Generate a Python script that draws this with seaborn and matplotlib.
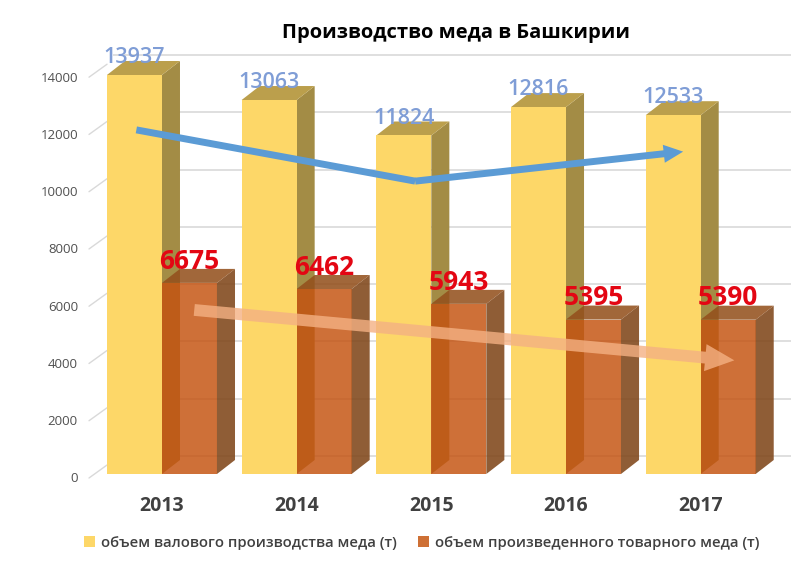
#!/usr/bin/env python
# -*- coding: utf-8 -*-

import pandas as pd
import matplotlib.pyplot as plt
import seaborn as sns
from matplotlib.patches import FancyArrowPatch, Patch, Polygon
from matplotlib.transforms import ScaledTranslation

years = ['2013', '2014', '2015', '2016', '2017']
gross = [13937, 13063, 11824, 12816, 12533]
commercial = [6675, 6462, 5943, 5395, 5390]
y_ticks = [0, 2000, 4000, 6000, 8000, 10000, 12000, 14000]

gross_name = 'объем валового производства меда (т)'
commercial_name = 'объем произведенного товарного меда (т)'
title = 'Производство меда в Башкирии'

# hand drawn trend arrows, in category / value units
blue_x = [-0.19, 1.88, 3.87]
blue_y = [12020, 10230, 11260]
orange_x = [0.24, 4.25]
orange_y = [5730, 3970]

sns.set_theme(style='white')
plt.rcParams['font.family'] = ['Open Sans', 'DejaVu Sans']

df = pd.DataFrame({
    'year': years * 2,
    'value': gross + commercial,
    'series': [gross_name] * 5 + [commercial_name] * 5,
})

fig = plt.figure(figsize=(8, 5.76), dpi=100)
ax = fig.add_axes([94.6 / 800, 102 / 576, 673.4 / 800, 400.8 / 576])

sns.barplot(data=df, x='year', y='value', hue='series', ax=ax, width=0.817, gap=0,
            palette=['#FDD768', '#C45310'], saturation=1, legend=False)
ax.set_xlim(-0.5, 4.5)
ax.set_ylim(0, 14000)
ax.set_xlabel('')
ax.set_ylabel('')
sns.despine(ax=ax, left=True, bottom=True)

# depth of the fake 3D bars, in data units
depth_x = 0.134
depth_y = 489


def add_depth(bar, side_color, top_color, alpha, zorder):
    x0, x1 = bar.get_x(), bar.get_x() + bar.get_width()
    h = bar.get_height()
    side = [(x1, 0), (x1 + depth_x, depth_y), (x1 + depth_x, h + depth_y), (x1, h)]
    top = [(x0, h), (x1, h), (x1 + depth_x, h + depth_y), (x0 + depth_x, h + depth_y)]
    ax.add_patch(Polygon(side, fc=side_color, ec='none', alpha=alpha, zorder=zorder, clip_on=False))
    ax.add_patch(Polygon(top, fc=top_color, ec='none', alpha=alpha, zorder=zorder, clip_on=False))


for bar in ax.containers[0]:
    bar.set_edgecolor('none')
    bar.set_linewidth(0)
    bar.set_zorder(3)
    add_depth(bar, '#A38C45', '#BB9F4C', 1, 1)
for bar in ax.containers[1]:
    bar.set_edgecolor('none')
    bar.set_linewidth(0)
    bar.set_alpha(0.83)
    bar.set_zorder(2)
    add_depth(bar, '#7F4518', '#93501C', 0.87, 2)

# back wall gridlines
ax.hlines(y_ticks, -0.5 + depth_x, 4.5 + depth_x + 0.04, color='#D9D9D9', lw=1.2, zorder=0,
          transform=ax.transData + ScaledTranslation(0, 18 / 100, fig.dpi_scale_trans), clip_on=False)

# slanted ticks on the left wall
tick_shift = ax.transData + ScaledTranslation(-5.6 / 100, -4 / 100, fig.dpi_scale_trans)
for v in y_ticks:
    ax.plot([-0.5, -0.5 + depth_x], [v, v + 454], color='#D9D9D9', lw=1, zorder=0,
            clip_on=False, transform=tick_shift)

ax.set_yticks(y_ticks)
ax.set_yticklabels([str(v) for v in y_ticks], fontsize=9.5, color='#505050')
ax.tick_params(axis='y', length=0, pad=12)
ax.tick_params(axis='x', length=0, pad=16)
for label in ax.get_yticklabels():
    label.set_transform(label.get_transform() + ScaledTranslation(0, -3.5 / 100, fig.dpi_scale_trans))
for label in ax.get_xticklabels():
    label.set_fontsize(14)
    label.set_fontweight('bold')
    label.set_color('#404040')

ax.bar_label(ax.containers[0], fontsize=15.5, color='#7F9DD6', fontweight='semibold', padding=5, zorder=6)
ax.bar_label(ax.containers[1], fontsize=19, color='#E30613', fontweight='bold', padding=6, zorder=6)

# trend arrows
ax.plot(blue_x[:2], blue_y[:2], color='#5B9BD5', lw=5, zorder=5, solid_capstyle='butt',
        solid_joinstyle='miter', clip_on=False)
ax.add_patch(FancyArrowPatch((blue_x[1], blue_y[1]), (blue_x[2], blue_y[2]), mutation_scale=1,
                             arrowstyle='simple,head_width=13,head_length=14,tail_width=5',
                             fc='#5B9BD5', ec='none', shrinkA=0, shrinkB=0, zorder=5))
ax.add_patch(FancyArrowPatch((orange_x[0], orange_y[0]), (orange_x[1], orange_y[1]), mutation_scale=1,
                             arrowstyle='simple,head_width=19.5,head_length=21,tail_width=8.5',
                             fc='#F4B183', ec='none', alpha=0.8, shrinkA=0, shrinkB=0, zorder=5))

fig.text(456 / 800, 1 - 33 / 576, title, fontsize=14.5, fontweight='bold', color='black',
         ha='center', va='center')

handles = [Patch(fc='#FDD768', ec='none', label=gross_name),
           Patch(fc='#CE7035', ec='none', label=commercial_name)]
fig.legend(handles=handles, loc='center', bbox_to_anchor=(421.5 / 800, 1 - 543 / 576), ncol=2,
           frameon=False, prop={'size': 10.7, 'weight': 'semibold'}, handlelength=0.75, handleheight=0.75,
           handletextpad=0.4, columnspacing=1.4, labelcolor='#404040')

fig.savefig('out.png', dpi=100)
